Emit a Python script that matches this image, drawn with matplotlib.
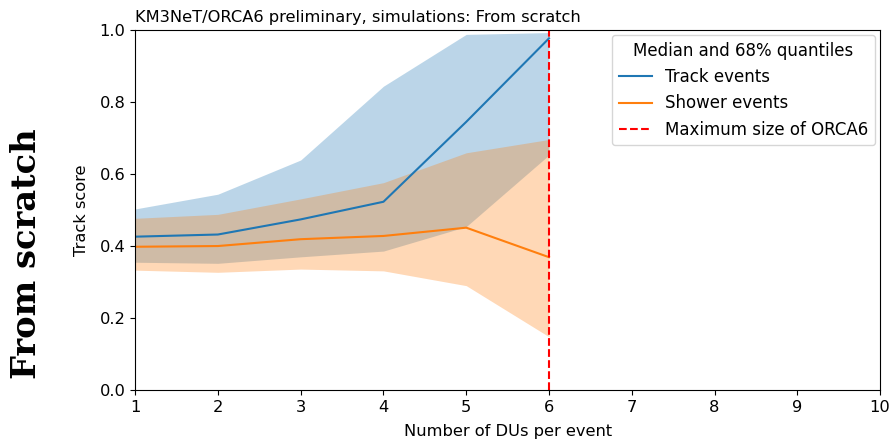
import matplotlib
matplotlib.use("Agg")
import matplotlib.pyplot as plt
import numpy as np

n_dus = [1, 2, 3, 4, 5, 6]
track_median = [0.426, 0.432, 0.474, 0.523, 0.745, 0.977]
track_low = [0.355, 0.352, 0.370, 0.386, 0.454, 0.653]
track_high = [0.503, 0.544, 0.639, 0.844, 0.988, 0.993]
shower_median = [0.398, 0.400, 0.419, 0.428, 0.451, 0.369]
shower_low = [0.333, 0.327, 0.336, 0.331, 0.290, 0.148]
shower_high = [0.477, 0.488, 0.531, 0.576, 0.659, 0.696]
orca6_size = 6

plt.rcParams["font.size"] = 11.7

fig = plt.figure(figsize=(8.89, 4.42), dpi=100)
ax = fig.add_axes([0.152, 0.1176, 0.838, 0.8144])

ax.fill_between(n_dus, track_low, track_high, color="C0", alpha=0.3, linewidth=0)
ax.plot(n_dus, track_median, color="C0", label="Track events")
ax.fill_between(n_dus, shower_low, shower_high, color="C1", alpha=0.3, linewidth=0)
ax.plot(n_dus, shower_median, color="C1", label="Shower events")
ax.axvline(orca6_size, color="red", linestyle="--", label="Maximum size of ORCA6")

ax.set_xlim(1, 10)
ax.set_ylim(0, 1)
ax.set_xticks(range(1, 11))
ax.set_xlabel("Number of DUs per event", labelpad=7)
ax.set_ylabel("Track score", labelpad=7.5)
ax.set_title("KM3NeT/ORCA6 preliminary, simulations: From scratch", loc="left", fontsize=11.7)
ax.legend(title="Median and 68% quantiles", loc="upper right", fontsize=12,
          title_fontsize=12, borderaxespad=0.3)

fig.text(0.030, 0.425, "From scratch", rotation=90, fontsize=24.3, fontweight="bold",
         family="DejaVu Serif", ha="center", va="center")

fig.savefig("out.png", dpi=100)
